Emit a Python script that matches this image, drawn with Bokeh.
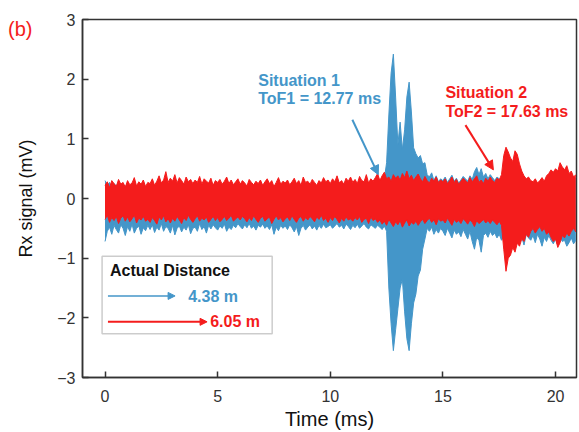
from bokeh.plotting import figure
from bokeh.models import (Range1d, FixedTicker, Label, Arrow, NormalHead,
                          BoxAnnotation, ColumnDataSource, Div)
from bokeh.layouts import column
from bokeh.embed import file_html
from bokeh.resources import INLINE

# ---------------- data (envelope of the traces, read every 0.1 ms) ----------
SAMPLE_MS = 0.1

# 4.38 m trace (blue): upper / lower envelope, mV
blue_hi = [
    0.30, 0.22, 0.27, 0.18, 0.25, 0.21, 0.28, 0.19, 0.24, 0.20,
    0.26, 0.19, 0.23, 0.29, 0.17, 0.24, 0.20, 0.27, 0.18, 0.22,
    0.21, 0.27, 0.19, 0.24, 0.30, 0.20, 0.26, 0.33, 0.22, 0.25,
    0.23, 0.31, 0.20, 0.27, 0.24, 0.19, 0.28, 0.22, 0.26, 0.18,
    0.25, 0.21, 0.29, 0.19, 0.26, 0.23, 0.20, 0.27, 0.18, 0.24,
    0.22, 0.26, 0.19, 0.24, 0.33, 0.21, 0.25, 0.18, 0.23, 0.27,
    0.20, 0.25, 0.22, 0.18, 0.26, 0.23, 0.19, 0.24, 0.21, 0.27,
    0.19, 0.24, 0.28, 0.21, 0.25, 0.18, 0.23, 0.30, 0.20, 0.24,
    0.22, 0.27, 0.20, 0.24, 0.29, 0.21, 0.26, 0.19, 0.30, 0.23,
    0.25, 0.20, 0.27, 0.23, 0.19, 0.26, 0.22, 0.30, 0.24, 0.27,
    0.22, 0.28, 0.24, 0.32, 0.22, 0.26, 0.20, 0.29, 0.25, 0.31,
    0.23, 0.28, 0.21, 0.31, 0.26, 0.24, 0.33, 0.22, 0.28, 0.25,
    0.30, 0.26, 0.32, 0.28, 0.33, 0.60, 1.40, 2.10, 2.42, 1.70,
    0.90, 1.28, 0.82, 1.15, 1.70, 1.95, 1.45, 0.85, 0.75, 0.68,
    0.72, 0.58, 0.60, 0.40, 0.36, 0.43, 0.30, 0.38, 0.28, 0.33,
    0.30, 0.36, 0.27, 0.33, 0.39, 0.29, 0.34, 0.26, 0.31, 0.37,
    0.33, 0.29, 0.38, 0.32, 0.45, 0.52, 0.40, 0.50, 0.36, 0.42,
    0.33, 0.40, 0.35, 0.30, 0.36, 0.33, 0.30, 0.45, 0.55, 0.50,
    0.45, 0.40, 0.50, 0.42, 0.38, 0.35, 0.32, 0.28, 0.30, 0.26,
    0.25, 0.30, 0.23, 0.27, 0.31, 0.26, 0.33, 0.36, 0.40, 0.38,
    0.42, 0.40, 0.50, 0.45, 0.41, 0.47, 0.36, 0.40, 0.31, 0.35,
]
blue_lo = [
    -0.72, -0.55, -0.48, -0.60, -0.45, -0.52, -0.58, -0.44, -0.50, -0.62,
    -0.47, -0.55, -0.43, -0.58, -0.50, -0.46, -0.60, -0.49, -0.54, -0.45,
    -0.52, -0.44, -0.57, -0.48, -0.53, -0.42, -0.55, -0.47, -0.50, -0.58,
    -0.45, -0.61, -0.50, -0.46, -0.56, -0.48, -0.53, -0.44, -0.59, -0.50,
    -0.48, -0.55, -0.42, -0.52, -0.47, -0.58, -0.45, -0.51, -0.44, -0.49,
    -0.53, -0.46, -0.50, -0.43, -0.55, -0.48, -0.52, -0.45, -0.49, -0.42,
    -0.47, -0.51, -0.44, -0.49, -0.42, -0.50, -0.46, -0.53, -0.45, -0.48,
    -0.43, -0.50, -0.46, -0.52, -0.44, -0.60, -0.48, -0.54, -0.45, -0.50,
    -0.46, -0.52, -0.44, -0.49, -0.56, -0.47, -0.62, -0.50, -0.45, -0.53,
    -0.48, -0.44, -0.51, -0.46, -0.53, -0.45, -0.50, -0.43, -0.49, -0.47,
    -0.44, -0.50, -0.46, -0.42, -0.48, -0.45, -0.51, -0.43, -0.47, -0.52,
    -0.45, -0.49, -0.43, -0.50, -0.46, -0.42, -0.48, -0.51, -0.44, -0.47,
    -0.50, -0.45, -0.48, -0.52, -0.46, -0.55, -1.50, -2.10, -2.55, -2.20,
    -1.85, -1.50, -1.35, -1.90, -2.35, -2.55, -2.10, -1.75, -1.60, -1.30,
    -1.20, -0.85, -0.68, -0.50, -0.55, -0.48, -0.60, -0.52, -0.58, -0.50,
    -0.55, -0.62, -0.50, -0.58, -0.66, -0.53, -0.60, -0.56, -0.64, -0.52,
    -0.60, -0.68, -0.55, -0.72, -0.85, -0.65, -0.70, -0.90, -0.62, -0.58,
    -0.65, -0.55, -0.62, -0.58, -0.66, -0.60, -0.70, -0.64, -0.72, -0.60,
    -0.75, -0.62, -0.68, -0.58, -0.72, -0.64, -0.78, -0.60, -0.66, -0.70,
    -0.62, -0.74, -0.60, -0.68, -0.80, -0.65, -0.72, -0.62, -0.70, -0.76,
    -0.68, -0.78, -0.65, -0.72, -0.70, -0.80, -0.74, -0.66, -0.76, -0.70,
]

# 6.05 m trace (red): upper / lower envelope, mV
red_hi = [
    0.22, 0.28, 0.18, 0.30, 0.25, 0.20, 0.32, 0.24, 0.27, 0.19,
    0.30, 0.23, 0.26, 0.35, 0.21, 0.28, 0.24, 0.31, 0.20, 0.27,
    0.25, 0.33, 0.22, 0.29, 0.38, 0.26, 0.31, 0.45, 0.27, 0.34,
    0.29, 0.40, 0.26, 0.35, 0.30, 0.24, 0.36, 0.28, 0.32, 0.25,
    0.31, 0.27, 0.37, 0.24, 0.33, 0.29, 0.26, 0.34, 0.22, 0.30,
    0.27, 0.32, 0.24, 0.29, 0.36, 0.25, 0.31, 0.23, 0.28, 0.33,
    0.24, 0.30, 0.26, 0.21, 0.32, 0.27, 0.23, 0.29, 0.25, 0.31,
    0.22, 0.28, 0.33, 0.25, 0.30, 0.20, 0.27, 0.35, 0.24, 0.29,
    0.26, 0.31, 0.23, 0.28, 0.34, 0.25, 0.30, 0.22, 0.36, 0.27,
    0.29, 0.24, 0.32, 0.27, 0.22, 0.30, 0.26, 0.35, 0.28, 0.31,
    0.25, 0.33, 0.28, 0.38, 0.26, 0.30, 0.24, 0.34, 0.29, 0.36,
    0.27, 0.32, 0.25, 0.37, 0.30, 0.28, 0.40, 0.26, 0.33, 0.29,
    0.35, 0.42, 0.30, 0.38, 0.44, 0.33, 0.36, 0.29, 0.40, 0.34,
    0.38, 0.31, 0.42, 0.35, 0.46, 0.33, 0.39, 0.30, 0.36, 0.41,
    0.33, 0.28, 0.37, 0.30, 0.26, 0.34, 0.29, 0.36, 0.27, 0.31,
    0.28, 0.33, 0.25, 0.30, 0.36, 0.27, 0.32, 0.24, 0.29, 0.34,
    0.30, 0.26, 0.35, 0.28, 0.33, 0.38, 0.27, 0.31, 0.25, 0.34,
    0.29, 0.36, 0.30, 0.27, 0.34, 0.31, 0.40, 0.72, 0.86, 0.78,
    0.68, 0.62, 0.80, 0.74, 0.58, 0.46, 0.38, 0.33, 0.36, 0.30,
    0.28, 0.33, 0.26, 0.30, 0.35, 0.29, 0.38, 0.42, 0.48, 0.44,
    0.50, 0.46, 0.60, 0.53, 0.48, 0.55, 0.42, 0.46, 0.36, 0.40,
]
red_lo = [
    -0.35, -0.28, -0.40, -0.32, -0.37, -0.30, -0.42, -0.33, -0.29, -0.38,
    -0.31, -0.39, -0.34, -0.28, -0.41, -0.33, -0.36, -0.30, -0.38, -0.35,
    -0.40, -0.32, -0.37, -0.43, -0.31, -0.36, -0.29, -0.39, -0.34, -0.41,
    -0.33, -0.38, -0.30, -0.36, -0.42, -0.32, -0.37, -0.28, -0.35, -0.40,
    -0.34, -0.29, -0.38, -0.33, -0.36, -0.31, -0.40, -0.35, -0.30, -0.37,
    -0.32, -0.39, -0.35, -0.30, -0.37, -0.33, -0.28, -0.38, -0.34, -0.31,
    -0.36, -0.30, -0.34, -0.39, -0.32, -0.37, -0.29, -0.35, -0.40, -0.33,
    -0.30, -0.38, -0.34, -0.31, -0.42, -0.35, -0.29, -0.36, -0.32, -0.39,
    -0.34, -0.31, -0.37, -0.29, -0.35, -0.40, -0.33, -0.30, -0.38, -0.32,
    -0.36, -0.30, -0.34, -0.39, -0.31, -0.35, -0.28, -0.37, -0.33, -0.40,
    -0.32, -0.37, -0.30, -0.35, -0.41, -0.33, -0.38, -0.31, -0.36, -0.34,
    -0.38, -0.32, -0.36, -0.30, -0.40, -0.35, -0.33, -0.42, -0.31, -0.37,
    -0.34, -0.40, -0.36, -0.43, -0.38, -0.45, -0.35, -0.41, -0.47, -0.39,
    -0.44, -0.37, -0.48, -0.41, -0.36, -0.46, -0.40, -0.43, -0.38, -0.45,
    -0.39, -0.35, -0.42, -0.37, -0.33, -0.40, -0.36, -0.44, -0.34, -0.38,
    -0.36, -0.41, -0.33, -0.39, -0.45, -0.35, -0.40, -0.37, -0.42, -0.34,
    -0.38, -0.43, -0.36, -0.40, -0.47, -0.37, -0.42, -0.39, -0.35, -0.41,
    -0.37, -0.42, -0.36, -0.40, -0.44, -0.38, -0.45, -0.85, -1.22, -1.00,
    -0.95, -0.82, -0.90, -0.75, -0.80, -0.68, -0.72, -0.60, -0.65, -0.55,
    -0.50, -0.58, -0.52, -0.47, -0.55, -0.50, -0.60, -0.56, -0.65, -0.72,
    -0.68, -0.82, -0.74, -0.62, -0.66, -0.58, -0.63, -0.55, -0.50, -0.56,
]

time_ms = [round(i * SAMPLE_MS, 1) for i in range(len(blue_hi))]

x_ticks = [0, 5, 10, 15, 20]
y_ticks = [-3, -2, -1, 0, 1, 2, 3]

panel_tag = "(b)"
legend_title = "Actual Distance"
legend_labels = ["4.38 m", "6.05 m"]
note1 = ["Situation 1", "ToF1 = 12.77 ms"]
note2 = ["Situation 2", "ToF2 = 17.63 ms"]

# ---------------- style ----------------
BLUE = "#4496c9"
RED = "#f41c1c"
AXC = "#333333"
FONT = "Liberation Sans"

p = figure(width=579, height=432, output_backend="svg", toolbar_location=None,
           x_range=Range1d(-1.0, 20.93), y_range=Range1d(-3, 3),
           min_border_left=82, min_border_right=3, min_border_top=19,
           min_border_bottom=53)
p.grid.visible = False
p.outline_line_color = AXC
p.outline_line_width = 1.5
p.background_fill_color = "white"
p.border_fill_color = "white"

for ax in (p.xaxis, p.yaxis):
    ax.axis_line_color = AXC
    ax.axis_line_width = 1.5
    ax.major_tick_line_color = AXC
    ax.major_tick_line_width = 1.5
    ax.major_tick_in = 6
    ax.major_tick_out = 0
    ax.minor_tick_line_color = None
    ax.major_label_text_font = FONT
    ax.major_label_text_font_size = "16px"
    ax.major_label_text_color = AXC
    ax.axis_label_text_font = FONT
    ax.axis_label_text_font_style = "normal"
    ax.axis_label_text_color = "#111111"

p.xaxis.ticker = FixedTicker(ticks=x_ticks)
p.yaxis.ticker = FixedTicker(ticks=y_ticks)
p.xaxis.axis_label = "Time (ms)"
p.yaxis.axis_label = "Rx signal (mV)"
p.xaxis.axis_label_text_font_size = "20px"
p.yaxis.axis_label_text_font_size = "18px"
p.xaxis.major_label_standoff = 12
p.yaxis.major_label_standoff = 7
p.xaxis.axis_label_standoff = 3
p.yaxis.axis_label_standoff = 18

src = ColumnDataSource(dict(t=time_ms, bh=blue_hi, bl=blue_lo,
                            rh=red_hi, rl=red_lo))

p.varea(x="t", y1="bl", y2="bh", source=src, fill_color=BLUE)
p.line(x="t", y="bh", source=src, line_color=BLUE, line_width=1)
p.line(x="t", y="bl", source=src, line_color=BLUE, line_width=1)
p.varea(x="t", y1="rl", y2="rh", source=src, fill_color=RED)
p.line(x="t", y="rh", source=src, line_color=RED, line_width=1)
p.line(x="t", y="rl", source=src, line_color=RED, line_width=1)


def label(x, y, text, color, size="16px", style="bold"):
    p.add_layout(Label(x=x, y=y, text=text, text_color=color,
                       text_font=FONT, text_font_size=size,
                       text_font_style=style, text_baseline="middle",
                       text_align="left"))


# annotations
label(6.8, 1.98, note1[0], BLUE)
label(6.8, 1.68, note1[1], BLUE)
label(15.11, 1.78, note2[0], RED)
label(15.11, 1.45, note2[1], RED)

p.add_layout(Arrow(end=NormalHead(size=9, fill_color=BLUE, line_color=BLUE),
                   x_start=10.98, y_start=1.32, x_end=12.13, y_end=0.40,
                   line_color=BLUE, line_width=2))
p.add_layout(Arrow(end=NormalHead(size=9, fill_color=RED, line_color=RED),
                   x_start=16.0, y_start=1.23, x_end=17.24, y_end=0.48,
                   line_color=RED, line_width=2))

# legend box
p.add_layout(BoxAnnotation(left=-0.13, right=7.42, top=-0.967, bottom=-2.267,
                           fill_color="white", fill_alpha=1.0,
                           line_color="#555555", line_width=1.5))
label(0.22, -1.2, legend_title, "#111111")
p.add_layout(Arrow(end=NormalHead(size=7, fill_color=BLUE, line_color=BLUE),
                   x_start=0.13, y_start=-1.633, x_end=3.11, y_end=-1.633,
                   line_color=BLUE, line_width=1.5))
label(3.69, -1.645, legend_labels[0], BLUE)
p.add_layout(Arrow(end=NormalHead(size=7, fill_color=RED, line_color=RED),
                   x_start=0.13, y_start=-2.067, x_end=4.53, y_end=-2.067,
                   line_color=RED, line_width=2))
label(4.67, -2.067, legend_labels[1], RED)

# panel tag "(b)" in the top-left corner, laid over the figure's border
tag = Div(text=panel_tag, width=40, height=24, margin=(-415, 0, 0, 8),
          styles={"color": RED, "font-family": FONT, "font-size": "20px",
                  "line-height": "24px", "position": "relative",
                  "z-index": "5"})

page = column(p, tag, spacing=0)

open("out.html", "w").write(file_html(page, INLINE))
